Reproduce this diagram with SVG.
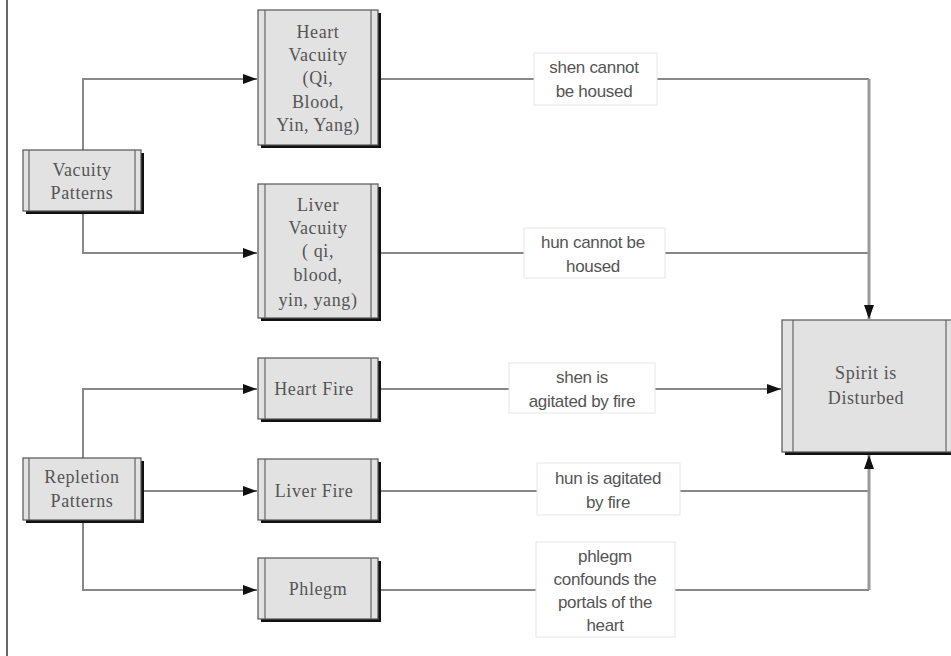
<svg xmlns="http://www.w3.org/2000/svg" width="951" height="656" viewBox="0 0 951 656">
<defs>
<marker id="arr" viewBox="0 0 14 10" refX="14" refY="5" markerWidth="14" markerHeight="10" markerUnits="userSpaceOnUse" orient="auto">
<path d="M0,0 L14,5 L0,10 z" fill="#111"/>
</marker>
</defs>
<style>
.sh{fill:#111}
.bx{fill:#e2e2e2;stroke:#555;stroke-width:1.2}
.in{stroke:#666;stroke-width:1.2}
.nt{font-family:"Liberation Serif","DejaVu Serif",serif;font-size:18px;letter-spacing:0.6px;fill:#555;text-anchor:middle}
.lb{fill:#fff;stroke:#e6e6e6;stroke-width:1}
.lt{font-family:"Liberation Sans",Arial,sans-serif;font-size:17px;letter-spacing:-0.3px;fill:#555;text-anchor:middle}
.c{fill:none;stroke:#888;stroke-width:2}
.t{fill:none;stroke:#999;stroke-width:3}
</style>
<rect width="951" height="656" fill="#fff"/>
<line x1="7" y1="0" x2="7" y2="656" stroke="#333" stroke-width="1.5"/>

<g id="connectors">
<path class="c" d="M83,150 V79 H257" marker-end="url(#arr)"/>
<path class="c" d="M83,212 V253 H257" marker-end="url(#arr)"/>
<path class="c" d="M83,458 V389 H257" marker-end="url(#arr)"/>
<path class="c" d="M144,491 H257" marker-end="url(#arr)"/>
<path class="c" d="M83,522 V590 H257" marker-end="url(#arr)"/>
<path class="c" d="M381,79 H869"/>
<path class="c" d="M381,253 H869"/>
<path class="t" d="M869,79 V319" marker-end="url(#arr)"/>
<path class="c" d="M381,389 H781" marker-end="url(#arr)"/>
<path class="c" d="M381,491 H869"/>
<path class="c" d="M381,590 H869"/>
<path class="t" d="M869,590 V455" marker-end="url(#arr)"/>
<g id="label-shen-housed">
<rect class="lb" x="534" y="53" width="123" height="52"/>
<text class="lt" x="594" y="73">shen cannot</text>
<text class="lt" x="594" y="97">be housed</text>
</g>
<g id="label-hun-housed">
<rect class="lb" x="524" y="228" width="141" height="50"/>
<text class="lt" x="593" y="248">hun cannot be</text>
<text class="lt" x="593" y="272">housed</text>
</g>
<g id="label-shen-fire">
<rect class="lb" x="509" y="363" width="146" height="50"/>
<text class="lt" x="582" y="383">shen is</text>
<text class="lt" x="582" y="407">agitated by fire</text>
</g>
<g id="label-hun-fire">
<rect class="lb" x="537" y="463" width="143" height="52"/>
<text class="lt" x="608" y="484">hun is agitated</text>
<text class="lt" x="608" y="508">by fire</text>
</g>
<g id="label-phlegm">
<rect class="lb" x="536" y="542" width="139" height="95"/>
<text class="lt" x="605" y="562">phlegm</text>
<text class="lt" x="605" y="585">confounds the</text>
<text class="lt" x="605" y="608">portals of the</text>
<text class="lt" x="605" y="631">heart</text>
</g>
</g>

<g id="vacuity-patterns">
<rect class="sh" x="26" y="153" width="118" height="61"/>
<rect class="bx" x="23" y="150" width="118" height="61"/>
<line class="in" x1="29" y1="150" x2="29" y2="211"/><line class="in" x1="135" y1="150" x2="135" y2="211"/>
<text class="nt" x="82" y="176">Vacuity</text>
<text class="nt" x="82" y="199">Patterns</text>
</g>

<g id="heart-vacuity">
<rect class="sh" x="261" y="13" width="120" height="135"/>
<rect class="bx" x="258" y="10" width="120" height="135"/>
<line class="in" x1="265" y1="10" x2="265" y2="145"/><line class="in" x1="371" y1="10" x2="371" y2="145"/>
<text class="nt" x="318" y="38">Heart</text>
<text class="nt" x="318" y="61">Vacuity</text>
<text class="nt" x="318" y="84">(Qi,</text>
<text class="nt" x="318" y="108">Blood,</text>
<text class="nt" x="318" y="131">Yin, Yang)</text>
</g>

<g id="liver-vacuity">
<rect class="sh" x="261" y="187" width="120" height="134"/>
<rect class="bx" x="258" y="184" width="120" height="134"/>
<line class="in" x1="265" y1="184" x2="265" y2="318"/><line class="in" x1="371" y1="184" x2="371" y2="318"/>
<text class="nt" x="318" y="211">Liver</text>
<text class="nt" x="318" y="234">Vacuity</text>
<text class="nt" x="318" y="257">( qi,</text>
<text class="nt" x="318" y="281">blood,</text>
<text class="nt" x="318" y="306">yin, yang)</text>
</g>

<g id="repletion-patterns">
<rect class="sh" x="26" y="461" width="118" height="62"/>
<rect class="bx" x="23" y="458" width="118" height="62"/>
<line class="in" x1="29" y1="458" x2="29" y2="520"/><line class="in" x1="135" y1="458" x2="135" y2="520"/>
<text class="nt" x="82" y="483">Repletion</text>
<text class="nt" x="82" y="507">Patterns</text>
</g>

<g id="heart-fire">
<rect class="sh" x="261" y="361" width="120" height="61"/>
<rect class="bx" x="258" y="358" width="120" height="61"/>
<line class="in" x1="265" y1="358" x2="265" y2="419"/><line class="in" x1="371" y1="358" x2="371" y2="419"/>
<text class="nt" x="314" y="395">Heart Fire</text>
</g>

<g id="liver-fire">
<rect class="sh" x="261" y="462" width="120" height="61"/>
<rect class="bx" x="258" y="459" width="120" height="61"/>
<line class="in" x1="265" y1="459" x2="265" y2="520"/><line class="in" x1="371" y1="459" x2="371" y2="520"/>
<text class="nt" x="314" y="497">Liver Fire</text>
</g>

<g id="phlegm">
<rect class="sh" x="261" y="561" width="120" height="61"/>
<rect class="bx" x="258" y="558" width="120" height="61"/>
<line class="in" x1="265" y1="558" x2="265" y2="619"/><line class="in" x1="371" y1="558" x2="371" y2="619"/>
<text class="nt" x="318" y="595">Phlegm</text>
</g>

<g id="spirit-disturbed">
<rect class="sh" x="785" y="323" width="175" height="132"/>
<rect class="bx" x="782" y="320" width="175" height="132"/>
<line class="in" x1="793" y1="320" x2="793" y2="452"/><line class="in" x1="946" y1="320" x2="946" y2="452"/>
<text class="nt" x="866" y="379">Spirit is</text>
<text class="nt" x="866" y="404">Disturbed</text>
</g>
</svg>
